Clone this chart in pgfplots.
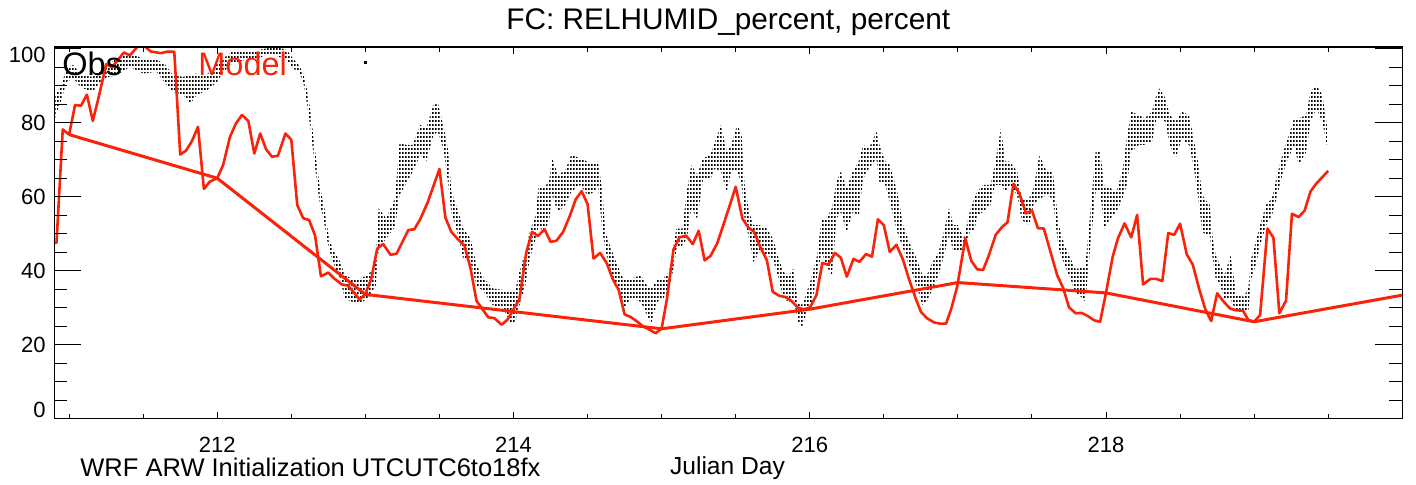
\documentclass[border=0pt]{standalone}
\usepackage{fontspec}
\setmainfont{Liberation Sans}
\usepackage{pgfplots}
\usepackage{pgfplotstable}
\pgfplotsset{compat=1.18}
\usepgfplotslibrary{fillbetween}
\usetikzlibrary{patterns.meta}
\definecolor{mred}{RGB}{250,35,10}
\tikzdeclarepattern{
  name=obsdots,
  type=uncolored,
  bounding box={(0pt,0pt) and (1.5pt,1.85pt)},
  tile size={(1.5pt,1.85pt)},
  code={\fill (0pt,0pt) rectangle (1.1pt,0.95pt);}
}
\pgfplotstableread{
day hi lo
210.904 87.5 81.2
210.95 90.2 86.6
210.983 95.1 91.1
211.03 95.6 92.0
211.08 92.9 89.5
211.16 92.4 88.4
211.23 94.7 92.0
211.32 97.4 92.9
211.41 98.7 95.1
211.50 97.4 93.3
211.59 97.2 93.8
211.65 95.6 90.6
211.70 92.9 88.4
211.77 92.4 87.5
211.82 92.9 85.2
211.86 93.3 87.5
211.91 92.4 88.4
211.95 93.8 89.3
212.00 96.0 91.1
212.04 97.4 93.8
212.10 99.2 96.0
212.18 99.5 96.9
212.27 99.6 97.4
212.36 100.3 98.7
212.42 100.3 97.8
212.47 99.6 96.9
212.51 97.4 94.7
212.55 95.6 93.8
212.58 93.3 91.1
212.60 90.2 86.6
212.63 83.0 78.5
212.65 75.8 71.3
212.67 69.5 65.0
212.69 63.2 58.7
212.72 57.8 53.3
212.74 52.3 48.7
212.76 47.9 45.1
212.79 45.1 41.5
212.83 42.4 37.9
212.86 38.8 32.5
212.91 37.9 31.6
212.96 37.9 31.2
213.02 38.8 32.5
213.07 42.4 36.1
213.09 56.9 46.0
213.14 54.1 48.7
213.20 59.5 51.9
213.23 74.4 60.4
213.28 74.0 64.0
213.32 74.0 66.8
213.37 79.4 71.3
213.41 78.5 69.5
213.46 84.8 76.7
213.49 85.2 77.6
213.53 78.5 72.2
213.56 72.2 63.2
213.58 61.4 55.9
213.62 56.9 50.5
213.66 51.4 43.3
213.71 48.7 42.4
213.75 41.5 36.1
213.80 37.9 34.3
213.86 35.2 30.7
213.93 34.8 29.8
213.98 34.3 26.0
214.01 34.3 26.2
214.04 39.7 30.7
214.08 45.1 36.1
214.11 50.5 43.3
214.15 55.0 48.7
214.17 63.2 52.3
214.20 62.3 50.5
214.24 64.0 53.3
214.26 70.4 60.4
214.30 65.9 55.9
214.35 67.2 57.8
214.39 71.3 61.4
214.45 70.4 63.2
214.50 69.5 60.4
214.55 69.0 61.4
214.57 69.5 63.2
214.60 61.4 50.5
214.62 50.5 46.0
214.65 46.9 39.7
214.70 41.5 35.2
214.74 37.9 29.8
214.80 37.9 32.5
214.86 38.8 31.6
214.90 36.1 28.0
214.93 35.2 25.8
214.97 37.5 31.6
215.01 37.9 32.5
215.05 39.7 35.2
215.08 46.9 40.6
215.10 51.4 46.0
215.14 51.4 46.9
215.17 61.4 48.7
215.20 68.6 56.9
215.24 65.9 54.1
215.28 70.4 64.9
215.33 71.3 64.9
215.36 74.9 67.7
215.40 79.4 66.8
215.44 72.2 61.4
215.47 74.0 66.8
215.51 79.4 66.8
215.54 76.7 63.2
215.56 63.2 54.1
215.59 55.9 48.7
215.62 52.3 42.4
215.66 52.3 45.1
215.71 51.4 44.2
215.75 48.7 43.3
215.79 43.3 37.9
215.82 39.7 32.5
215.86 38.8 31.6
215.89 40.6 32.5
215.92 31.6 26.2
215.95 30.7 24.9
215.98 34.3 28.9
216.01 37.9 30.7
216.05 44.2 38.8
216.08 54.1 45.1
216.11 54.1 41.5
216.15 56.9 38.8
216.18 64.0 54.1
216.21 66.8 55.9
216.25 62.3 50.5
216.29 66.8 55.9
216.33 69.5 54.9
216.36 74.0 64.9
216.40 73.1 67.7
216.45 77.6 70.4
216.47 74.0 64.0
216.51 69.5 63.2
216.54 68.6 58.7
216.59 61.4 50.5
216.63 52.3 46.0
216.68 46.9 40.6
216.72 43.3 36.1
216.76 38.8 30.7
216.79 38.8 31.6
216.82 41.5 34.3
216.87 45.1 38.8
216.90 49.6 43.3
216.94 56.9 49.6
216.97 52.3 45.1
217.00 52.3 45.1
217.04 48.7 45.1
217.08 55.9 50.5
217.11 59.5 50.5
217.13 61.4 55.0
217.17 63.2 55.9
217.22 63.2 57.8
217.25 68.6 63.2
217.29 78.5 63.2
217.32 69.5 61.4
217.35 69.5 63.2
217.40 66.8 60.4
217.43 59.5 53.8
217.48 59.5 52.3
217.51 62.3 57.8
217.55 71.3 59.5
217.60 66.8 60.4
217.64 66.8 59.5
217.68 52.3 46.0
217.72 46.9 41.5
217.76 43.3 37.9
217.79 40.6 34.3
217.82 40.6 33.4
217.86 41.1 31.6
217.89 54.1 45.1
217.93 72.2 61.4
217.96 72.2 61.4
217.99 62.3 51.4
218.03 62.3 54.1
218.07 61.4 55.9
218.11 66.8 59.5
218.14 75.8 63.2
218.17 83.0 72.2
218.22 82.1 74.0
218.26 81.2 74.0
218.31 83.0 74.9
218.34 87.5 81.2
218.36 89.3 81.2
218.40 86.6 80.3
218.43 82.1 74.0
218.47 80.3 70.4
218.51 83.0 75.8
218.56 82.1 74.0
218.59 75.8 68.6
218.62 69.5 60.4
218.65 60.4 50.5
218.68 58.7 49.6
218.70 57.8 49.6
218.72 48.7 43.3
218.74 44.2 37.9
218.77 41.5 36.1
218.80 38.8 32.5
218.84 44.2 32.5
218.88 33.4 28.9
218.93 33.0 28.9
218.96 35.2 28.9
218.98 43.3 37.9
219.01 47.8 41.5
219.04 52.3 46.9
219.08 57.8 52.3
219.12 59.5 55.0
219.15 65.0 59.5
219.19 71.3 65.9
219.22 74.9 69.5
219.27 81.2 74.0
219.30 81.2 68.6
219.35 82.0 72.0
219.38 88.4 80.3
219.42 90.2 83.9
219.46 87.5 80.3
219.49 79.4 74.0
}\obs
\pgfplotstableread{
day rh
210.90 47.5
210.915 47.6
210.957 78.2
211.0 76.8
211.04 84.8
211.08 84.6
211.12 87.6
211.16 80.5
211.20 87.0
211.25 95.8
211.29 95.0
211.37 99.0
211.41 98.2
211.46 100.5
211.50 101.0
211.55 99.3
211.59 99.0
211.62 98.8
211.66 99.2
211.71 99.2
211.75 71.4
211.79 72.5
211.83 75.1
211.87 78.9
211.91 62.1
211.95 64.1
212.0 65.0
212.04 68.6
212.086 76.2
212.126 79.8
212.167 82.1
212.21 80.5
212.25 71.7
212.29 77.1
212.33 72.8
212.37 70.8
212.41 71.1
212.46 77.1
212.50 75.4
212.54 57.8
212.58 54.2
212.62 53.7
212.66 49.6
212.70 38.5
212.75 39.5
212.79 37.9
212.84 36.3
212.88 36.0
212.92 34.3
212.96 32.2
213.0 33.7
213.04 37.9
213.08 46.0
213.12 47.2
213.17 44.3
213.21 44.6
213.24 47.0
213.29 51.0
213.33 51.2
213.37 53.9
213.42 58.4
213.50 67.5
213.54 54.4
213.58 50.5
213.63 48.3
213.67 46.7
213.71 40.6
213.75 31.9
213.79 29.6
213.83 27.4
213.87 27.2
213.92 25.4
213.96 26.8
214.0 29.6
214.04 32.3
214.085 44.7
214.125 50.5
214.165 49.4
214.21 51.2
214.25 47.8
214.29 48.1
214.335 50.5
214.38 54.8
214.42 59.3
214.46 61.5
214.50 58.0
214.54 43.3
214.585 44.8
214.63 42.0
214.67 37.7
214.71 34.8
214.75 28.2
214.79 27.5
214.83 26.4
214.87 25.1
214.92 24.0
214.96 23.1
215.0 24.4
215.035 32.2
215.08 45.7
215.12 49.0
215.165 49.5
215.21 47.2
215.25 50.8
215.29 42.8
215.33 44.0
215.375 47.4
215.42 52.8
215.46 57.7
215.50 62.7
215.545 54.1
215.585 51.7
215.625 50.5
215.665 46.5
215.71 42.9
215.75 34.3
215.795 33.2
215.835 32.9
215.875 31.9
215.92 30.0
215.96 29.6
216.0 30.0
216.045 33.4
216.085 42.1
216.125 41.6
216.17 44.8
216.21 43.5
216.25 38.4
216.295 43.2
216.335 42.4
216.38 44.5
216.42 43.8
216.46 53.9
216.50 52.3
216.54 45.1
216.585 47.0
216.63 42.9
216.67 37.7
216.715 32.5
216.75 28.9
216.79 27.2
216.84 26.0
216.88 25.7
216.92 25.7
216.955 29.7
216.995 35.7
217.05 48.7
217.09 42.7
217.13 40.4
217.17 40.2
217.21 44.3
217.255 49.7
217.30 51.9
217.335 53.1
217.375 63.5
217.415 60.9
217.46 55.5
217.50 56.3
217.54 51.5
217.58 51.4
217.62 45.8
217.67 38.8
217.71 35.4
217.75 30.1
217.795 28.5
217.835 28.6
217.875 27.8
217.92 26.6
217.96 26.2
218.0 34.1
218.045 43.8
218.08 48.7
218.125 52.8
218.17 49.0
218.21 55.1
218.25 36.3
218.30 37.8
218.34 37.8
218.38 37.2
218.42 50.2
218.46 49.7
218.50 52.7
218.545 44.4
218.585 41.7
218.63 34.9
218.67 29.6
218.71 26.4
218.75 33.9
218.795 31.6
218.84 29.7
218.88 29.3
218.925 29.2
218.96 26.7
219.0 26.2
219.04 28.0
219.09 51.4
219.13 48.9
219.17 28.5
219.215 31.9
219.255 55.4
219.30 54.5
219.34 56.2
219.38 61.4
219.42 63.6
219.46 65.3
219.50 67.0
}\model
\pgfplotstableread{
day rh
211.0 76.8
212.0 65.0
213.0 33.6
215.0 24.3
216.0 29.6
217.0 36.8
218.0 34.0
219.0 26.2
220.0 33.4
}\daily
\begin{document}
\begin{tikzpicture}
\begin{axis}[
  at={(0pt,0pt)}, anchor=south west,
  scale only axis, width=674pt, height=185.7pt,
  xmin=210.9, xmax=220.0, ymin=0, ymax=100.4,
  axis line style={line width=0.8pt},
  xtick={212,214,216,218}, xticklabels={212,214,216,218},
  minor xtick={211,211.5,212.5,213,213.5,214.5,215,215.5,216.5,217,217.5,218.5,219,219.5},
  ytick=\empty,
  major tick length=3.5pt, minor tick length=2.2pt,
  tick style={black, line width=0.5pt},
  tick align=inside, xtick pos=both,
  xticklabel style={font=\fontsize{11}{13}\selectfont, inner sep=0pt, anchor=north, yshift=-9pt},
  clip=true,
]
\addplot[draw=none, name path=up, forget plot] table[x=day, y=hi] {\obs};
\addplot[draw=none, name path=lo, forget plot] table[x=day, y=lo] {\obs};
\addplot[pattern={obsdots}, pattern color=black, draw=none] fill between[of=up and lo];
\addplot[only marks, mark=square*, mark size=0.5pt, black] coordinates {(213.0,96.3)};
\addplot[mred, line width=1.3pt, line join=round] table[x=day, y=rh] {\model};
\addplot[mred, line width=1.5pt, line join=round] table[x=day, y=rh] {\daily};
\end{axis}
\begin{axis}[
  at={(0pt,0pt)}, anchor=south west,
  scale only axis, width=674pt, height=185.7pt,
  xmin=210.9, xmax=220.0, ymin=0, ymax=100.4,
  axis line style={line width=0.8pt},
  xtick=\empty,
  ytick={0,20,40,60,80,100},
  yticklabels={\raisebox{0.55pt}[0pt][0pt]{0},20,40,60,80,\raisebox{-7.1pt}[0pt][0pt]{100}},
  minor ytick={5,10,15,25,30,35,45,50,55,65,70,75,85,90,95},
  major tick length=13.5pt, minor tick length=6.5pt,
  tick style={black, line width=0.5pt},
  tick align=inside, ytick pos=both,
  yticklabel style={font=\fontsize{11}{13}\selectfont, inner sep=0pt, anchor=east, xshift=-4.15pt},
]
\addplot[draw=none, forget plot] table[x=day, y=rh] {\daily};
\end{axis}
\node[anchor=base, font=\fontsize{14.9}{16}\selectfont, inner sep=0pt] at (337pt,194.35pt) {FC: RELHUMID\_percent, percent};
\node[anchor=base west, font=\fontsize{16.25}{18}\selectfont, inner sep=0pt] at (3.85pt,171.6pt) {Obs};
\node[anchor=base west, font=\fontsize{16.25}{18}\selectfont, inner sep=0pt, text=mred] at (71.85pt,171.6pt) {Model};
\node[anchor=base west, font=\fontsize{12.75}{14}\selectfont, inner sep=0pt] at (12.85pt,-29.15pt) {WRF ARW Initialization UTCUTC6to18fx};
\node[anchor=base, font=\fontsize{12.3}{14}\selectfont, inner sep=0pt] at (336.6pt,-28.15pt) {Julian Day};
\pgfresetboundingbox
\useasboundingbox (-27.15pt,-33.15pt) rectangle (680.85pt,209.35pt);
\end{tikzpicture}
\end{document}
